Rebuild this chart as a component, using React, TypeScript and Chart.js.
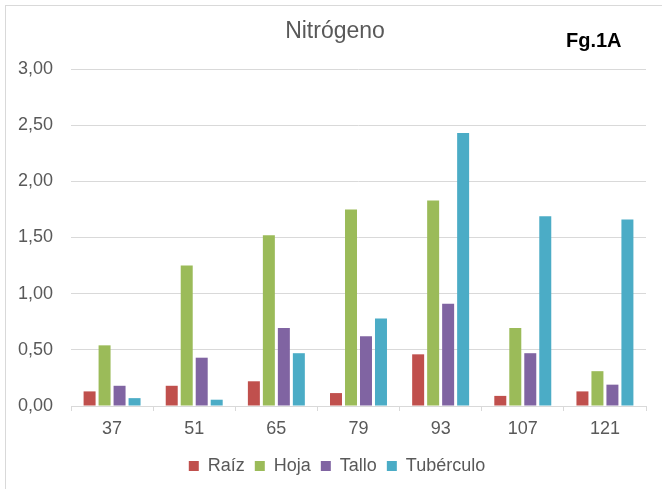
import { useEffect, useRef } from "react";
import { Chart, registerables } from "chart.js";

Chart.register(...registerables);

const categories = ["37", "51", "65", "79", "93", "107", "121"];
const raiz = [0.13, 0.18, 0.22, 0.115, 0.46, 0.09, 0.13];
const hoja = [0.54, 1.25, 1.52, 1.75, 1.83, 0.695, 0.31];
const tallo = [0.18, 0.43, 0.695, 0.62, 0.91, 0.47, 0.19];
const tuberculo = [0.07, 0.056, 0.47, 0.78, 2.43, 1.69, 1.66];
const seriesNames = ["Raíz", "Hoja", "Tallo", "Tubérculo"];
const seriesColors = ["#C0504D", "#9BBB59", "#8064A2", "#4BACC6"];
const yMin = 0;
const yMax = 3;
const yStep = 0.5;
const titleText = "Nitrógeno";
const tagText = "Fg.1A";

const FONT = "'Liberation Sans', Arial, sans-serif";
const TEXT = "#595959";
const GRID = "#D9D9D9";

const decorPlugin = {
  id: "decor",
  afterLayout(chart: any) {
    const l = chart.legend;
    if (l) {
      l.left += 28;
    }
  },
  beforeDraw(chart: any) {
    const ctx = chart.ctx;
    ctx.save();
    ctx.fillStyle = "#ffffff";
    ctx.fillRect(0, 0, chart.width, chart.height);
    ctx.restore();
  },
  afterDraw(chart: any) {
    const ctx = chart.ctx;
    ctx.save();
    ctx.strokeStyle = GRID;
    ctx.lineWidth = 1;
    ctx.strokeRect(5.5, 5.5, chart.width + 20, chart.height + 20);
    ctx.fillStyle = TEXT;
    ctx.font = `23px ${FONT}`;
    ctx.textAlign = "center";
    ctx.textBaseline = "middle";
    ctx.fillText(titleText, 335, 32);
    ctx.fillStyle = "#000000";
    ctx.font = `bold 20px ${FONT}`;
    ctx.textAlign = "left";
    ctx.fillText(tagText, 566, 41);
    ctx.restore();
  },
};

export default function App() {
  const ref = useRef<HTMLCanvasElement | null>(null);

  useEffect(() => {
    if (!ref.current) return;
    const seriesValues = [raiz, hoja, tallo, tuberculo];
    const chart = new Chart(ref.current, {
      type: "bar",
      data: {
        labels: categories,
        datasets: seriesNames.map((name, i) => ({
          label: name,
          data: seriesValues[i],
          backgroundColor: seriesColors[i],
          borderWidth: 0,
          categoryPercentage: 0.73,
          barPercentage: 0.8,
        })),
      },
      options: {
        animation: false,
        responsive: false,
        layout: { padding: { top: 69, left: 0, right: 16, bottom: 4 } },
        plugins: {
          title: { display: false },
          tooltip: { enabled: false },
          legend: {
            position: "bottom",
            labels: {
              boxWidth: 10,
              boxHeight: 10,
              padding: 10,
              color: TEXT,
              font: { family: FONT, size: 18 },
            },
          },
        },
        scales: {
          x: {
            grid: {
              display: true,
              drawOnChartArea: false,
              drawTicks: true,
              tickLength: 5,
              color: GRID,
              offset: true,
            },
            border: { display: true, color: GRID },
            ticks: { color: TEXT, font: { family: FONT, size: 18 }, padding: 7 },
            afterFit: (s: any) => {
              s.height = 41;
            },
          },
          y: {
            min: yMin,
            max: yMax,
            ticks: {
              stepSize: yStep,
              color: TEXT,
              font: { family: FONT, size: 18 },
              padding: 18,
              callback: (v: any) => Number(v).toFixed(2).replace(".", ","),
            },
            grid: { color: GRID, drawTicks: false },
            border: { display: false },
            afterFit: (s: any) => {
              s.width = 71;
            },
          },
        },
      },
      plugins: [decorPlugin],
    });
    return () => chart.destroy();
  }, []);

  return (
    <div style={{ position: "absolute", left: 0, top: 0, width: 662, height: 489 }}>
      <canvas ref={ref} width={662} height={489} style={{ display: "block" }} />
    </div>
  );
}
